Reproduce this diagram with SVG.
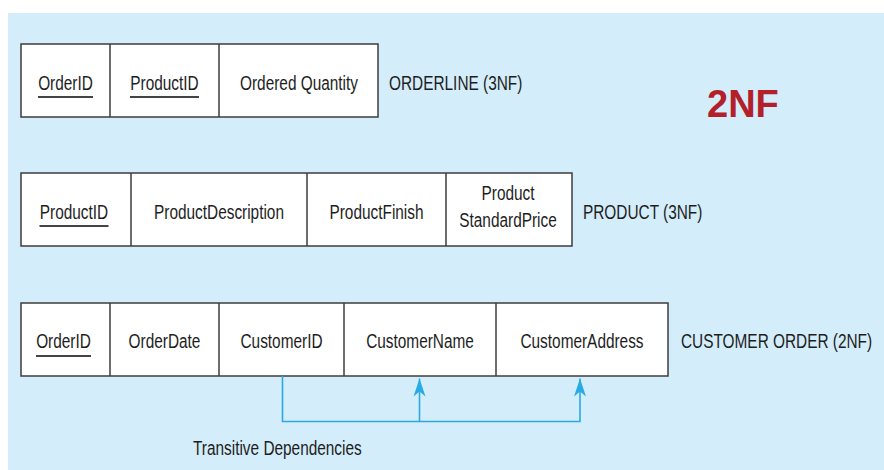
<svg xmlns="http://www.w3.org/2000/svg" width="884" height="470" viewBox="0 0 884 470">
<style>
.bg{fill:#d4edfb}
.cell{fill:#ffffff;stroke:#3c3c3c;stroke-width:1.5}
.div{stroke:#3c3c3c;stroke-width:1.5}
.ul{stroke:#444444;stroke-width:2}
.t{font-family:"Liberation Sans",Arial,Helvetica,sans-serif;font-size:20px;fill:#1e1e1e}
.m{text-anchor:middle}
.title{font-family:"Liberation Sans",Arial,Helvetica,sans-serif;font-size:38px;font-weight:bold;fill:#b3202a}
.conn{fill:none;stroke:#2aaae2;stroke-width:1.6}
</style>
<defs>
<marker id="ah" markerUnits="userSpaceOnUse" markerWidth="22" markerHeight="16" viewBox="-19 -8 20 16" refX="0" refY="0" orient="auto">
<path d="M0,0 L-18,-6 L-13,0 L-18,6 Z" fill="#2aaae2"/>
</marker>
</defs>
<rect class="bg" x="8" y="13" width="876" height="457"/>

<g id="orderline">
<rect class="cell" x="21" y="44" width="357" height="73"/>
<line class="div" x1="110" y1="44" x2="110" y2="117"/>
<line class="div" x1="219" y1="44" x2="219" y2="117"/>
<text class="t m" transform="translate(65.5,90) scale(0.77,1)">OrderID</text>
<line class="ul" x1="38" y1="97" x2="93" y2="97"/>
<text class="t m" transform="translate(164.5,90) scale(0.77,1)">ProductID</text>
<line class="ul" x1="130" y1="97" x2="199" y2="97"/>
<text class="t m" transform="translate(299,90) scale(0.77,1)">Ordered Quantity</text>
<text class="t" transform="translate(389,90) scale(0.77,1)">ORDERLINE (3NF)</text>
</g>

<g id="label-2nf">
<text class="title" x="707" y="117">2NF</text>
</g>

<g id="product">
<rect class="cell" x="21" y="173" width="551" height="73"/>
<line class="div" x1="131" y1="173" x2="131" y2="246"/>
<line class="div" x1="307" y1="173" x2="307" y2="246"/>
<line class="div" x1="446" y1="173" x2="446" y2="246"/>
<text class="t m" transform="translate(74,219) scale(0.77,1)">ProductID</text>
<line class="ul" x1="39.5" y1="226" x2="108.5" y2="226"/>
<text class="t m" transform="translate(219,219) scale(0.77,1)">ProductDescription</text>
<text class="t m" transform="translate(376.5,219) scale(0.77,1)">ProductFinish</text>
<text class="t m" transform="translate(508,200) scale(0.77,1)">Product</text>
<text class="t m" transform="translate(508,227) scale(0.77,1)">StandardPrice</text>
<text class="t" transform="translate(583,219) scale(0.77,1)">PRODUCT (3NF)</text>
</g>

<g id="customer-order">
<rect class="cell" x="21" y="303" width="647" height="73"/>
<line class="div" x1="110" y1="303" x2="110" y2="376"/>
<line class="div" x1="219" y1="303" x2="219" y2="376"/>
<line class="div" x1="344" y1="303" x2="344" y2="376"/>
<line class="div" x1="496" y1="303" x2="496" y2="376"/>
<text class="t m" transform="translate(63.5,348) scale(0.77,1)">OrderID</text>
<line class="ul" x1="36" y1="356" x2="91" y2="356"/>
<text class="t m" transform="translate(164.5,348) scale(0.77,1)">OrderDate</text>
<text class="t m" transform="translate(281.5,348) scale(0.77,1)">CustomerID</text>
<text class="t m" transform="translate(420,348) scale(0.77,1)">CustomerName</text>
<text class="t m" transform="translate(582,348) scale(0.77,1)">CustomerAddress</text>
<text class="t" transform="translate(681,348) scale(0.77,1)">CUSTOMER ORDER (2NF)</text>
</g>

<g id="connectors">
<path class="conn" d="M282.5,376 V421.5 H580 V378.5" marker-end="url(#ah)"/>
<path class="conn" d="M419.5,421.5 V378.5" marker-end="url(#ah)"/>
</g>

<g id="label-transitive">
<text class="t" transform="translate(193,455) scale(0.77,1)">Transitive Dependencies</text>
</g>
</svg>
